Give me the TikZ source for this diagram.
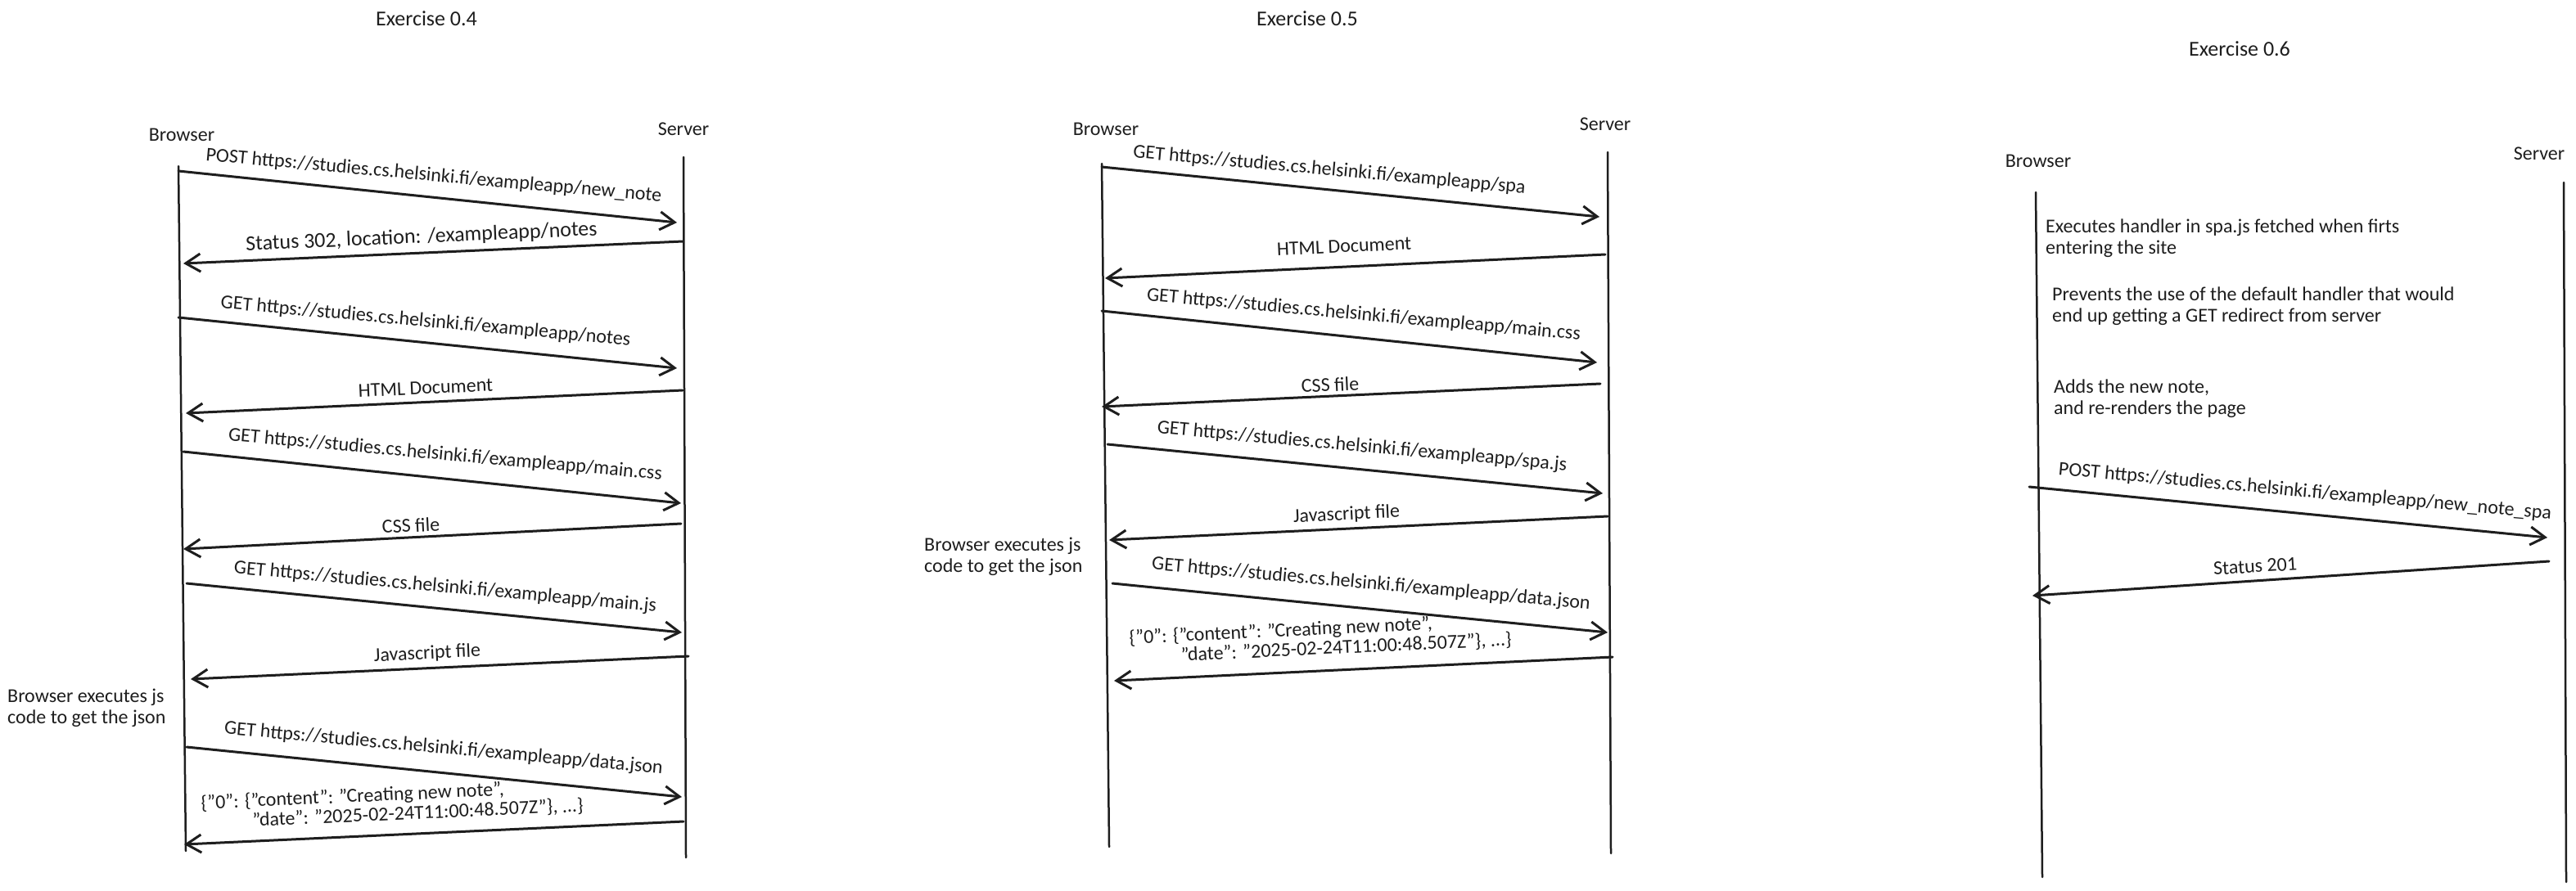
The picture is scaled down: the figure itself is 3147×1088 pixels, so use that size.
\documentclass[tikz,border=0pt]{standalone}
\usepackage{fontspec}
\setmainfont{Carlito}
\usetikzlibrary{arrows.meta}
\definecolor{ink}{HTML}{1E1E1E}
\begin{document}
\begin{tikzpicture}[x=1pt,y=-1pt,
  lbl/.style={font=\fontsize{24}{26}\selectfont, inner sep=0pt, text=ink},
  ttl/.style={lbl, font=\fontsize{26}{28}\selectfont},
  json/.style={lbl, font=\fontsize{24}{24}\selectfont, align=left, anchor=west},
  note/.style={lbl, anchor=west, align=left},
  life/.style={line width=2.5pt, draw=ink, line cap=round},
  msg/.style={line width=3pt, draw=ink, line cap=round, -{Straight Barb[length=18pt,width=22pt]}}]
\useasboundingbox[fill=white] (0,0) rectangle (3147,1088);

% ================= Exercise 0.4 =================
\node[ttl] (t1) at (521,23) {Exercise 0.4};
\node[lbl] (br1) at (222,165) {Browser};
\node[lbl] (sv1) at (835,158) {Server};
\coordinate (L1t) at (218,203); \coordinate (L1b) at (227,1040);
\coordinate (R1t) at (835,192); \coordinate (R1b) at (838,1048);
\draw[life] (L1t) -- (L1b);
\draw[life] (R1t) -- (R1b);

\coordinate (a1s) at (218,209); \coordinate (a1e) at (827,272);
\coordinate (a2s) at (834,295); \coordinate (a2e) at (224,322);
\coordinate (a3s) at (218,388); \coordinate (a3e) at (827,450);
\coordinate (a4s) at (834,477); \coordinate (a4e) at (227,505);
\coordinate (a5s) at (224,552); \coordinate (a5e) at (832,615);
\coordinate (a6s) at (832,640); \coordinate (a6e) at (224,671);
\coordinate (a7s) at (228,713); \coordinate (a7e) at (833,773);
\coordinate (a8s) at (841,802); \coordinate (a8e) at (233,830);
\coordinate (a9s) at (228,913); \coordinate (a9e) at (833,974);
\coordinate (a10s) at (835,1004); \coordinate (a10e) at (225,1032);
\foreach \i in {1,...,10} {\draw[msg] (a\i s) -- (a\i e);}

\node[lbl,rotate=-5.2] (la1) at (530,215) {POST https://studies.cs.helsinki.fi/exampleapp/new\_note};
\node[lbl,rotate=2.5,font=\fontsize{26}{28}\selectfont] (la2) at (515,290) {Status 302, location: /exampleapp/notes};
\node[lbl,rotate=-5.2] (la3) at (520,393) {GET https://studies.cs.helsinki.fi/exampleapp/notes};
\node[lbl,rotate=2.6] (la4) at (520,474) {HTML Document};
\node[lbl,rotate=-5.2] (la5) at (544,556) {GET https://studies.cs.helsinki.fi/exampleapp/main.css};
\node[lbl,rotate=2.8] (la6) at (502,642) {CSS file};
\node[lbl,rotate=-5.2] (la7) at (544,718) {GET https://studies.cs.helsinki.fi/exampleapp/main.js};
\node[lbl,rotate=2.6] (la8) at (522,799) {Javascript file};
\node[lbl,rotate=-5.2] (la9) at (542,915) {GET https://studies.cs.helsinki.fi/exampleapp/data.json};
\node[json,rotate=2.6] (la10) at (246,994) {\{"0": \{"content": "Creating new note",\\\hspace*{62pt}"date": "2025-02-24T11:00:48.507Z"\}, ...\}};
\node[note] (n1) at (9,865) {Browser executes js\\code to get the json};

% ================= Exercise 0.5 =================
\node[ttl] (t2) at (1597,23) {Exercise 0.5};
\node[lbl] (br2) at (1351,158) {Browser};
\node[lbl] (sv2) at (1961,152) {Server};
\coordinate (L2t) at (1346,200); \coordinate (L2b) at (1355,1035);
\coordinate (R2t) at (1964,186); \coordinate (R2b) at (1968,1043);
\draw[life] (L2t) -- (L2b);
\draw[life] (R2t) -- (R2b);

\coordinate (b1s) at (1346,204); \coordinate (b1e) at (1954,265);
\coordinate (b2s) at (1961,311); \coordinate (b2e) at (1350,340);
\coordinate (b3s) at (1346,380); \coordinate (b3e) at (1951,443);
\coordinate (b4s) at (1955,469); \coordinate (b4e) at (1346,497);
\coordinate (b5s) at (1353,543); \coordinate (b5e) at (1958,603);
\coordinate (b6s) at (1964,631); \coordinate (b6e) at (1355,660);
\coordinate (b7s) at (1359,713); \coordinate (b7e) at (1964,773);
\coordinate (b8s) at (1970,803); \coordinate (b8e) at (1361,832);
\foreach \i in {1,...,8} {\draw[msg] (b\i s) -- (b\i e);}

\node[lbl,rotate=-5.2] (lb1) at (1624,208) {GET https://studies.cs.helsinki.fi/exampleapp/spa};
\node[lbl,rotate=2.7] (lb2) at (1642,301) {HTML Document};
\node[lbl,rotate=-5.2] (lb3) at (1666,385) {GET https://studies.cs.helsinki.fi/exampleapp/main.css};
\node[lbl,rotate=2.6] (lb4) at (1625,470) {CSS file};
\node[lbl,rotate=-5.2] (lb5) at (1664,546) {GET https://studies.cs.helsinki.fi/exampleapp/spa.js};
\node[lbl,rotate=2.7] (lb6) at (1645,629) {Javascript file};
\node[lbl,rotate=-5.2] (lb7) at (1675,714) {GET https://studies.cs.helsinki.fi/exampleapp/data.json};
\node[json,rotate=2.7] (lb8) at (1380,792) {\{"0": \{"content": "Creating new note",\\\hspace*{62pt}"date": "2025-02-24T11:00:48.507Z"\}, ...\}};
\node[note] (n2) at (1129,680) {Browser executes js\\code to get the json};

% ================= Exercise 0.6 =================
\node[ttl] (t3) at (2736,60) {Exercise 0.6};
\node[lbl] (br3) at (2490,197) {Browser};
\node[lbl] (sv3) at (3102,188) {Server};
\coordinate (L3t) at (2487,235); \coordinate (L3b) at (2495,1072);
\coordinate (R3t) at (3132,223); \coordinate (R3b) at (3135,1078);
\draw[life] (L3t) -- (L3b);
\draw[life] (R3t) -- (R3b);

\node[note] (n3) at (2499,291) {Executes handler in spa.js fetched when firts\\entering the site};
\node[note] (n4) at (2507,374) {Prevents the use of the default handler that would\\end up getting a GET redirect from server};
\node[note] (n5) at (2509,487) {Adds the new note,\\and re-renders the page};

\coordinate (c1s) at (2479,595); \coordinate (c1e) at (3112,657);
\coordinate (c2s) at (3114,686); \coordinate (c2e) at (2483,728);
\draw[msg] (c1s) -- (c1e);
\draw[msg] (c2s) -- (c2e);
\node[lbl,rotate=-5.2] (lc1) at (2816,601) {POST https://studies.cs.helsinki.fi/exampleapp/new\_note\_spa};
\node[lbl,rotate=3.6] (lc2) at (2755,692) {Status 201};
\end{tikzpicture}
\end{document}
